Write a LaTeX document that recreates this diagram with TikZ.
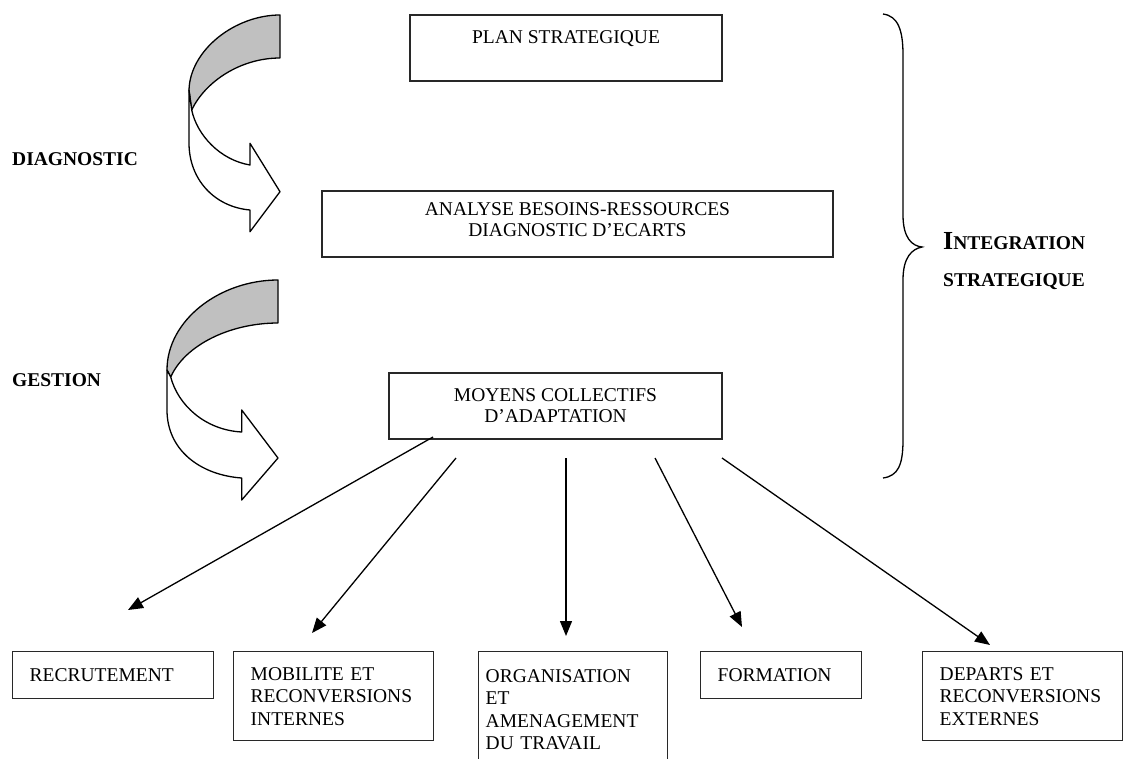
\documentclass[tikz,border=0pt]{standalone}
\usepackage{fontspec}
\setmainfont{Liberation Serif}
\usetikzlibrary{arrows.meta}
\definecolor{boxline}{RGB}{40,40,40}
\definecolor{facegray}{RGB}{192,192,192}
\begin{document}
\begin{tikzpicture}[x=1pt,y=-1pt,
  box/.style={draw=boxline, line width=1.4pt, inner sep=0pt, font=\fontsize{19.5}{21}\selectfont},
  botbox/.style={box, anchor=north west, align=left, inner xsep=17pt, font=\fontsize{19.5}{22.5}\selectfont},
  conn/.style={line width=1.3pt, -{Triangle[length=15pt,width=12pt]}},
  lab/.style={font=\fontsize{19.5}{21}\selectfont\bfseries, inner sep=0pt},
  curved/.style={draw=black, line width=1.3pt, line join=round},
]
\useasboundingbox (0,0) rectangle (1139,758);
\clip (0,0) rectangle (1139,758);

% top boxes
\node[box, minimum width=312pt, minimum height=66pt, text height=13pt, text depth=23pt] (plan) at (566,48) {PLAN STRATEGIQUE};
\node[box, minimum width=511pt, minimum height=66pt, align=center] (analyse) at (577.5,224)
  {ANALYSE BESOINS-RESSOURCES\\DIAGNOSTIC D'ECARTS\rule[-8pt]{0pt}{8pt}};
\node[box, minimum width=333pt, minimum height=66pt, align=center] (moyens) at (555.5,406)
  {MOYENS COLLECTIFS\\D'ADAPTATION};

% bottom boxes
\node[botbox, minimum width=201pt, minimum height=47pt, text width=167pt, text height=13pt] (recr) at (12,651) {RECRUTEMENT};
\node[botbox, minimum width=200pt, minimum height=89pt, text width=166pt] (mob) at (233,651) {MOBILITE ET\\RECONVERSIONS\\INTERNES};
\node[botbox, minimum width=189pt, minimum height=116pt, text width=175pt, inner xsep=7pt] (orga) at (478,651) {ORGANISATION\\ET\\AMENAGEMENT\\DU TRAVAIL};
\node[botbox, minimum width=161pt, minimum height=47pt, text width=127pt, text height=13pt] (form) at (700,651) {FORMATION};
\node[botbox, minimum width=200pt, minimum height=89pt, text width=166pt] (dep) at (922,651) {DEPARTS ET\\RECONVERSIONS\\EXTERNES};

% left labels
\node[lab, anchor=west] (diag) at (12,159) {DIAGNOSTIC};
\node[lab, anchor=west] (gest) at (12,380) {GESTION};

% right labels
\node[lab, anchor=base west] (integ) at (943,249) {{\fontsize{26}{26}\selectfont I}NTEGRATION};
\node[lab, anchor=base west] (strat) at (943,286) {STRATEGIQUE};

% brace
\draw[line width=1.3pt] (883,14) .. controls (898,16) and (903,30) .. (903,55) -- (903,215)
  .. controls (903,238) and (912,246) .. (922,247)
  .. controls (912,249) and (903,257) .. (903,280) -- (903,440)
  .. controls (903,465) and (898,476) .. (883,478);

% curved arrow 1 (diagnostic)
\filldraw[curved, fill=facegray] (280,15) .. controls (235,15) and (190,50) .. (189,90)
  -- (191.7,110) .. controls (205,82) and (240,58) .. (280,58) -- cycle;
\filldraw[curved, fill=white] (189,90) -- (189,143) .. controls (189,180) and (215,207) .. (250,210)
  -- (250,231.7) -- (280,191.7) -- (250,143.3) -- (250,165)
  .. controls (220,160) and (197,135) .. (191.7,110) -- cycle;

% curved arrow 2 (gestion)
\filldraw[curved, fill=facegray] (278,280) .. controls (220,280) and (167,320) .. (167,370)
  -- (170.7,377) .. controls (185,345) and (230,323) .. (278,323) -- cycle;
\filldraw[curved, fill=white] (167,370) -- (167,410) .. controls (167,450) and (200,475) .. (241.7,478)
  -- (241.7,500) -- (278,458) -- (241.7,410) -- (241.7,432)
  .. controls (205,430) and (178,405) .. (170.7,377) -- cycle;

% connectors
\coordinate (s1) at (433,437);
\coordinate (s2) at (456,458);
\coordinate (s3) at (566,458);
\coordinate (s4) at (655,458);
\coordinate (s5) at (722,458);
\coordinate (e1) at (128,610);
\coordinate (e2) at (312,633);
\coordinate (e3) at (566,636);
\coordinate (e4) at (742,627);
\coordinate (e5) at (990,645);
\draw[conn] (s1) -- (e1);
\draw[conn] (s2) -- (e2);
\draw[conn] (s3) -- (e3);
\draw[conn] (s4) -- (e4);
\draw[conn] (s5) -- (e5);
\end{tikzpicture}
\end{document}
